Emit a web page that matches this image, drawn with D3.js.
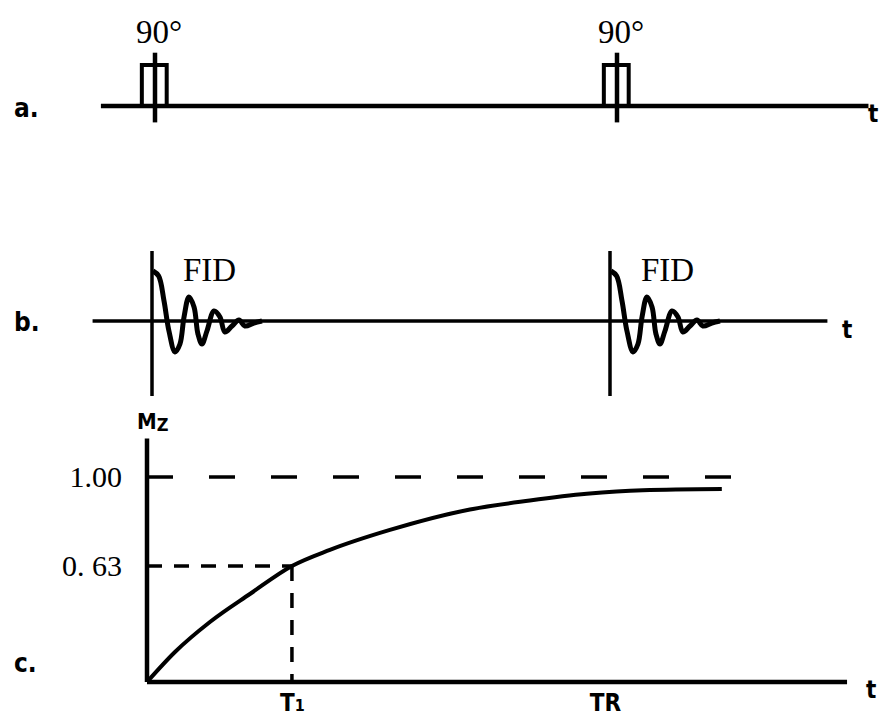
<!DOCTYPE html>
<html>
<head>
<meta charset="utf-8">
<script src="https://cdn.jsdelivr.net/npm/d3@7"></script>
<style>
body { margin: 0; background: #fff; }
.serif { font-family: "Liberation Serif", "DejaVu Serif", serif; fill: #000; }
.sans { font-family: "Liberation Sans Narrow", "DejaVu Sans Condensed", "Liberation Sans", sans-serif; font-weight: bold; fill: #000; }
</style>
</head>
<body>
<svg id="chart"></svg>
<script>
// time is in units of T1
var TR = 3.16;
var pulseTimes = [0, TR];
var pulseEdges = [-0.09, 0.08];
var pulseLabel = "90°";

// FID shape (time after pulse, relative amplitude)
var fidT = [0.007, 0.046, 0.083, 0.117, 0.159, 0.193, 0.221, 0.255, 0.29, 0.317, 0.345, 0.379, 0.428, 0.469, 0.503, 0.552, 0.6, 0.641, 0.703, 0.759];
var fidA = [1.0, 0.9, 0.4, -0.2, -0.62, -0.46, 0.08, 0.48, 0.28, -0.26, -0.46, -0.2, 0.2, 0.08, -0.22, -0.1, 0.02, -0.1, -0.04, 0];

// Mz recovery
var mzT = [0, 0.193, 0.434, 0.71, 1.0, 1.262, 1.676, 2.228, 2.641, 3.034, 3.421, 3.966];
var mzV = [0, 0.163, 0.326, 0.478, 0.63, 0.697, 0.78, 0.865, 0.902, 0.93, 0.945, 0.95];

var yTicks = [0.63, 1.00];
var yTickLabels = ["0. 63", "1.00"];
var xTicks = [1, TR];
var xTickLabels = [["T", "1"], ["T", "R"]];
var panelLabels = ["a.", "b.", "c."];

var W = 880, H = 716;
var svg = d3.select("#chart").attr("width", W).attr("height", H);
var line = d3.line().x(d => d[0]).y(d => d[1]);

// ---------- panel a : RF pulses
var xa = d3.scaleLinear().domain([0, TR]).range([155, 617]);
var ya = d3.scaleLinear().domain([0, 1]).range([106, 65]);
var ga = svg.append("g");

ga.append("path")
  .attr("d", line([[xa(-0.37), ya(0)], [xa(4.88), ya(0)]]))
  .attr("stroke", "#000").attr("stroke-width", 4.5).attr("fill", "none");

pulseTimes.forEach(function(p) {
  var pts = [[p + pulseEdges[0], 0], [p + pulseEdges[0], 1], [p + pulseEdges[1], 1], [p + pulseEdges[1], 0]];
  ga.append("path")
    .attr("d", line(pts.map(d => [xa(d[0]), ya(d[1])])))
    .attr("stroke", "#000").attr("stroke-width", 4).attr("fill", "none");
  ga.append("path")
    .attr("d", line([[xa(p), ya(-0.4)], [xa(p), ya(1.3)]]))
    .attr("stroke", "#000").attr("stroke-width", 4.5);
  ga.append("text").attr("class", "serif")
    .attr("x", xa(p) + 4).attr("y", 43)
    .attr("text-anchor", "middle").attr("font-size", 33)
    .text(pulseLabel);
});

// ---------- panel b : FID
var xb = d3.scaleLinear().domain([0, TR]).range([152, 610]);
var yb = d3.scaleLinear().domain([0, 1]).range([321, 271]);
var gb = svg.append("g");

gb.append("path")
  .attr("d", line([[xb(-0.41), yb(0)], [xb(4.66), yb(0)]]))
  .attr("stroke", "#000").attr("stroke-width", 3.5).attr("fill", "none");

var smooth = d3.line().x(d => d[0]).y(d => d[1]).curve(d3.curveCatmullRom);
pulseTimes.forEach(function(p) {
  gb.append("path")
    .attr("d", line([[xb(p), yb(-1.5)], [xb(p), yb(1.4)]]))
    .attr("stroke", "#000").attr("stroke-width", 3.5);
  gb.append("path")
    .attr("d", smooth(fidT.map((t, i) => [xb(p + t), yb(fidA[i])])))
    .attr("stroke", "#000").attr("stroke-width", 5).attr("fill", "none")
    .attr("stroke-linejoin", "round");
  gb.append("text").attr("class", "serif")
    .attr("x", xb(p) + 31).attr("y", yb(0) - 40)
    .attr("font-size", 33)
    .text("FID");
});

// ---------- panel c : Mz recovery
var xc = d3.scaleLinear().domain([0, TR]).range([147, 605]);
var yc = d3.scaleLinear().domain([0, 0.63, 1]).range([682, 566, 477]);
var gc = svg.append("g");

// dashed guides
gc.append("path")
  .attr("d", line([[xc(0), yc(1)], [xc(4.12), yc(1)]]))
  .attr("stroke", "#000").attr("stroke-width", 3.5).attr("stroke-dasharray", "26,36");
gc.append("path")
  .attr("d", line([[xc(0), yc(0.63)], [xc(1), yc(0.63)]]))
  .attr("stroke", "#000").attr("stroke-width", 3.5).attr("stroke-dasharray", "15,12");
gc.append("path")
  .attr("d", line([[xc(1), yc(0.63)], [xc(1), yc(0)]]))
  .attr("stroke", "#000").attr("stroke-width", 3.5).attr("stroke-dasharray", "15,12");

// curve
var mono = d3.line().x(d => d[0]).y(d => d[1]).curve(d3.curveMonotoneX);
gc.append("path")
  .attr("d", mono(mzT.map((t, i) => [xc(t), yc(mzV[i])])))
  .attr("stroke", "#000").attr("stroke-width", 4).attr("fill", "none");

// axes lines
gc.append("path")
  .attr("d", line([[xc(0), yc(0)], [xc(0), yc(1.16)]]))
  .attr("stroke", "#000").attr("stroke-width", 4.5);
gc.append("path")
  .attr("d", line([[xc(0), yc(0)], [xc(4.83), yc(0)]]))
  .attr("stroke", "#000").attr("stroke-width", 4.5);

// y tick labels
gc.append("g")
  .attr("transform", "translate(" + xc(0) + ",0)")
  .call(d3.axisLeft(yc).tickValues(yTicks).tickSize(0).tickPadding(25)
    .tickFormat((d, i) => yTickLabels[i]))
  .call(g => g.select(".domain").remove())
  .selectAll("text").attr("class", "serif").attr("font-size", 30);

// x tick labels
var xAx = gc.append("g")
  .attr("transform", "translate(0," + yc(0) + ")")
  .call(d3.axisBottom(xc).tickValues(xTicks).tickSize(0).tickPadding(0).tickFormat(""))
  .call(g => g.select(".domain").remove());
xAx.selectAll(".tick text").each(function(d, i) {
  var t = d3.select(this).attr("class", "sans").attr("font-size", 24)
    .attr("dy", null).attr("y", 29);
  t.append("tspan").text(xTickLabels[i][0]);
  t.append("tspan").attr("font-size", i == 0 ? 16 : 24).text(xTickLabels[i][1]);
});

// Mz label
var mz = gc.append("text").attr("class", "sans")
  .attr("x", xc(0) - 10).attr("y", yc(1.16) - 10).attr("font-size", 22);
mz.append("tspan").text("M");
mz.append("tspan").attr("font-size", 18).attr("dy", 2).text("Z");

// panel letters and t labels
var letterY = [117, 331, 672];
var tLabel = [[868, 122], [842, 338], [866, 698]];
panelLabels.forEach(function(s, i) {
  svg.append("text").attr("class", "sans")
    .attr("x", 14).attr("y", letterY[i]).attr("font-size", 26).text(s);
  svg.append("text").attr("class", "sans")
    .attr("x", tLabel[i][0]).attr("y", tLabel[i][1]).attr("font-size", 24).text("t");
});
</script>
</body>
</html>
